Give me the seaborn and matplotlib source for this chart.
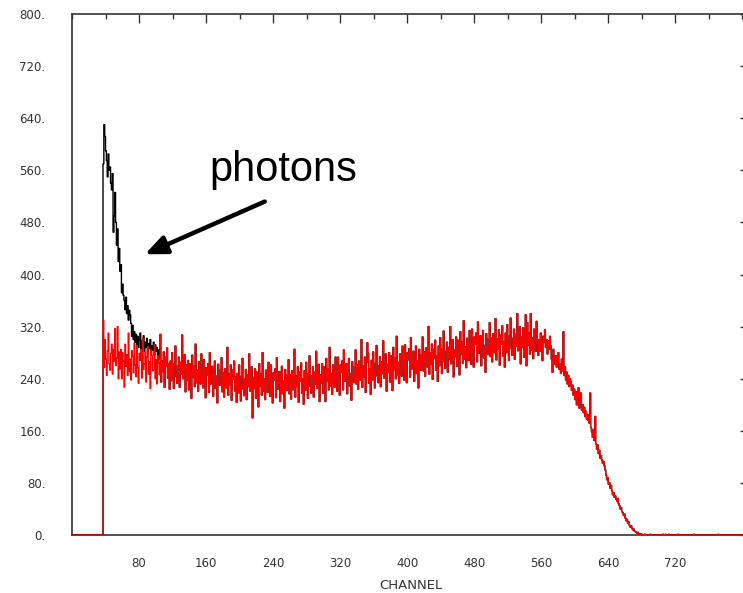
import numpy as np
import pandas as pd
import matplotlib
matplotlib.use("Agg")
import matplotlib.pyplot as plt
import seaborn as sns
from matplotlib.ticker import MultipleLocator, FixedLocator, FixedFormatter

# ---- data: counts per channel, first channel with counts is 37 ----
start_channel = 37

red_counts = [
    # ch 37-56
    330, 257, 300, 270, 245, 283, 310, 263, 253, 279, 293, 247, 285, 267, 317, 260, 272, 320, 240, 281,
    # ch 57-76
    255, 285, 240, 280, 267, 227, 293, 259, 277, 245, 310, 251, 270, 238, 283, 274, 249, 295, 261, 243,
    # ch 77-96
    291, 257, 233, 279, 268, 285, 241, 302, 254, 263, 281, 235, 273, 289, 247, 266, 225, 284, 276, 252,
    # ch 97-116
    254, 292, 240, 269, 232, 275, 264, 246, 308, 235, 267, 251, 281, 227, 273, 259, 287, 241, 263, 224,
    # ch 117-136
    267, 237, 280, 250, 225, 263, 290, 243, 233, 259, 273, 227, 265, 247, 307, 240, 252, 277, 220, 261,
    # ch 137-156
    238, 268, 223, 263, 250, 210, 276, 242, 260, 228, 293, 234, 253, 221, 266, 257, 232, 278, 244, 226,
    # ch 157-176
    269, 235, 211, 257, 246, 263, 219, 280, 232, 241, 259, 213, 251, 267, 225, 244, 203, 262, 254, 230,
    # ch 177-196
    234, 272, 220, 249, 212, 255, 244, 226, 288, 215, 247, 231, 261, 207, 253, 239, 267, 221, 243, 204,
    # ch 197-216
    248, 218, 261, 231, 206, 244, 271, 224, 214, 240, 254, 208, 246, 228, 278, 221, 233, 258, 180, 242,
    # ch 217-236
    225, 255, 210, 250, 237, 197, 263, 229, 247, 215, 280, 221, 240, 208, 253, 244, 219, 265, 231, 213,
    # ch 237-256
    261, 227, 203, 249, 238, 255, 211, 272, 224, 233, 251, 205, 243, 259, 217, 236, 195, 254, 246, 222,
    # ch 257-276
    231, 269, 217, 246, 209, 252, 241, 223, 285, 212, 244, 228, 258, 204, 250, 236, 264, 218, 240, 201,
    # ch 277-296
    252, 222, 265, 235, 210, 248, 275, 228, 218, 244, 258, 212, 250, 232, 282, 225, 237, 262, 205, 246,
    # ch 297-316
    233, 263, 218, 258, 245, 205, 271, 237, 255, 223, 288, 229, 248, 216, 261, 252, 227, 273, 239, 221,
    # ch 317-336
    273, 239, 215, 261, 250, 267, 223, 284, 236, 245, 263, 217, 255, 271, 229, 248, 207, 266, 258, 234,
    # ch 337-356
    246, 284, 232, 261, 224, 267, 256, 238, 300, 227, 259, 243, 273, 219, 265, 295, 279, 233, 255, 216,
    # ch 357-376
    268, 238, 281, 251, 226, 264, 291, 244, 234, 260, 274, 228, 266, 248, 298, 241, 253, 278, 221, 262,
    # ch 377-396
    250, 280, 235, 275, 262, 222, 288, 254, 272, 240, 305, 246, 265, 233, 278, 269, 244, 290, 256, 238,
    # ch 397-416
    292, 258, 234, 280, 269, 286, 242, 303, 255, 264, 282, 236, 274, 290, 248, 267, 226, 285, 277, 253,
    # ch 417-436
    266, 304, 252, 281, 244, 287, 276, 258, 320, 247, 279, 263, 293, 239, 285, 271, 299, 253, 275, 236,
    # ch 437-456
    290, 260, 303, 273, 248, 286, 313, 266, 256, 282, 296, 250, 288, 270, 320, 263, 275, 300, 243, 284,
    # ch 457-476
    274, 304, 259, 299, 286, 246, 312, 278, 296, 264, 329, 270, 289, 257, 302, 293, 268, 314, 280, 262,
    # ch 477-496
    316, 282, 258, 304, 293, 310, 266, 327, 279, 288, 306, 260, 298, 314, 272, 291, 250, 309, 301, 277,
    # ch 497-516
    288, 326, 274, 303, 266, 309, 298, 280, 332, 269, 301, 285, 315, 261, 307, 293, 321, 275, 297, 258,
    # ch 517-536
    310, 280, 323, 293, 268, 306, 333, 286, 276, 302, 316, 270, 308, 290, 340, 283, 295, 320, 263, 304,
    # ch 537-556
    288, 318, 273, 313, 338, 260, 326, 292, 310, 278, 340, 284, 303, 271, 316, 307, 282, 328, 294, 276,
    # ch 557-576
    300, 282, 310, 292, 268, 305, 296, 315, 288, 300, 278, 298, 285, 305, 290, 270, 250, 285, 275, 262,
    # ch 577-596
    275, 258, 268, 280, 255, 262, 248, 270, 252, 312, 245, 258, 238, 250, 232, 245, 228, 240, 235, 222,
    # ch 597-616
    230, 215, 224, 208, 220, 200, 212, 226, 195, 205, 218, 192, 200, 188, 196, 182, 190, 178, 185, 176,
    # ch 617-636
    172, 218, 165, 158, 150, 162, 145, 182, 140, 132, 138, 125, 130, 118, 122, 115, 110, 113, 106, 100,
    # ch 637-656
    92, 85, 88, 78, 80, 72, 76, 68, 62, 65, 58, 60, 55, 52, 56, 48, 45, 40, 42, 36,
    # ch 657-676
    34, 30, 32, 26, 22, 24, 18, 20, 15, 12, 14, 10, 8, 9, 6, 5, 4, 3, 4, 2,
    # ch 677-696
    1, 2, 0, 1, 0, 0, 1, 0, 0, 0, 0, 0, 0, 1, 0, 0, 0, 0, 0, 0,
    # ch 697-716
    0, 0, 0, 0, 0, 0, 0, 0, 1, 0, 0, 1, 0, 0, 0, 1, 0, 0, 0, 0,
    # ch 717-736
    0, 0, 0, 0, 0, 0, 1, 0, 0, 0, 0, 0, 0, 0, 0, 0, 0, 0, 0, 0,
    # ch 737-756
    0, 0, 0, 0, 0, 1, 0, 0, 0, 0, 0, 0, 0, 0, 0, 0, 0, 0, 0, 0,
    # ch 757-776
    0, 0, 0, 0, 0, 0, 0, 0, 0, 0, 0, 0, 0, 0, 1, 0, 0, 0, 0, 0,
    # ch 777-800
    0, 0, 0, 0, 0, 0, 0, 0, 0, 0, 0, 0, 0, 0, 0, 0, 0, 0, 0, 0, 0, 0, 0, 0,
]

# black spectrum (with photons): differs from red only in channels 37-104
black_photon_counts = [
    # ch 37-56
    570, 630, 612, 590, 575, 550, 585, 560, 565, 540, 530, 555, 465, 490, 526, 480, 445, 470, 420, 440,
    # ch 57-76
    405, 415, 372, 385, 368, 360, 346, 365, 340, 352, 330, 345, 338, 325, 305, 322, 300, 312, 296, 308,
    # ch 77-96
    292, 305, 288, 300, 310, 285, 298, 290, 306, 282, 296, 288, 302, 280, 294, 286, 300, 278, 290, 284,
    # ch 97-104
    296, 276, 292, 282, 288, 272, 284, 270,
]
black_counts = black_photon_counts + red_counts[len(black_photon_counts):]

y_ticks = [0, 80, 160, 240, 320, 400, 480, 560, 640, 720, 800]
y_labels = ["0.", "80.", "160.", "240.", "320.", "400.", "480.", "560.", "640.", "720.", "800."]
x_ticks = [80, 160, 240, 320, 400, 480, 560, 640, 720]
x_labels = ["80", "160", "240", "320", "400", "480", "560", "640", "720"]


def step_frame(counts):
    edges = start_channel + np.arange(len(counts) + 1)
    x = np.concatenate([[0], edges])
    y = np.concatenate([[0], counts, [counts[-1]]])
    return pd.DataFrame({"channel": x, "counts": y})


black_df = step_frame(black_counts)
red_df = step_frame(red_counts)

sns.set_style("white")
plt.rcParams["font.family"] = ["DejaVu Sans"]

fig = plt.figure(figsize=(7.43, 5.93), dpi=100)
ax = fig.add_axes([72 / 743, 58 / 593, 677 / 743, 521 / 593])

sns.lineplot(data=black_df, x="channel", y="counts", ax=ax, color="black",
             linewidth=1.0, drawstyle="steps-post", estimator=None, sort=False,
             zorder=3)
sns.lineplot(data=red_df, x="channel", y="counts", ax=ax, color="#ff0000",
             linewidth=0.9, drawstyle="steps-post", estimator=None, sort=False,
             zorder=4, clip_on=False)

ax.set_xlim(0, 808)
ax.set_ylim(0, 800)

ax.yaxis.set_major_locator(FixedLocator(y_ticks))
ax.yaxis.set_major_formatter(FixedFormatter(y_labels))
ax.yaxis.set_minor_locator(MultipleLocator(40))
ax.xaxis.set_major_locator(FixedLocator(x_ticks))
ax.xaxis.set_major_formatter(FixedFormatter(x_labels))
ax.xaxis.set_minor_locator(MultipleLocator(40))

ax.tick_params(axis="both", which="major", direction="in", length=6.5, width=1.0,
               color="#333333", labelsize=8.5, labelcolor="#333333")
ax.tick_params(axis="both", which="minor", direction="in", length=3.6, width=1.0,
               color="#333333")
ax.tick_params(axis="y", which="major", pad=19)
ax.tick_params(axis="x", which="major", pad=16)
ax.tick_params(axis="both", which="both", top=True, right=True)

for side in ["left", "bottom", "top"]:
    ax.spines[side].set_visible(True)
    ax.spines[side].set_color("#333333")
    ax.spines[side].set_linewidth(1.2)
ax.spines["right"].set_visible(False)

ax.set_xlabel("CHANNEL", fontsize=9.5, color="#333333", labelpad=6)
ax.set_ylabel("")
ax.grid(False)

ax.text(252, 560, "photons", fontsize=30, ha="center", va="center", color="black",
        family="Liberation Sans")
ax.annotate("", xy=(87, 431), xytext=(230, 512), textcoords="data",
            arrowprops=dict(arrowstyle="-|>,head_length=0.65,head_width=0.28",
                            mutation_scale=20, color="black", lw=3.2,
                            shrinkA=0, shrinkB=0))

fig.savefig("out.png", dpi=100)
